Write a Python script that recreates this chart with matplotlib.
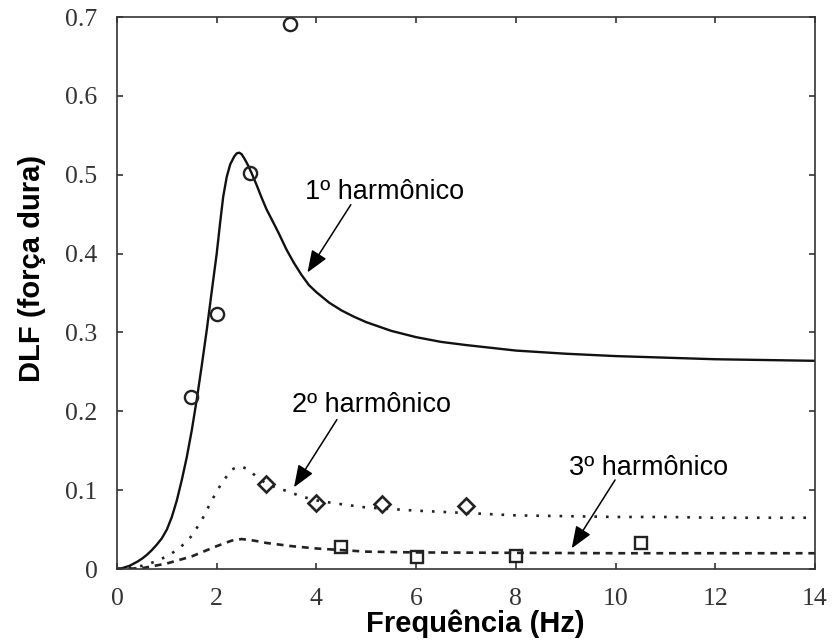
import matplotlib
matplotlib.use("Agg")
import matplotlib.pyplot as plt

# ---- data ----
freq_h1 = [0, 0.1, 0.25, 0.4, 0.5, 0.6, 0.7, 0.8, 0.9, 1.0, 1.1, 1.2, 1.3, 1.4, 1.5, 1.6, 1.7,
           1.8, 1.9, 2.0, 2.07, 2.13, 2.2, 2.27, 2.35, 2.4, 2.45, 2.5, 2.55, 2.62, 2.7, 2.8,
           2.9, 3.0, 3.13, 3.25, 3.4, 3.55, 3.7, 3.85, 4.0, 4.25, 4.5, 4.75, 5.0, 5.5, 6.0,
           6.5, 7.0, 8.0, 9.0, 10.0, 11.0, 12.0, 13.0, 14.0]
dlf_h1 = [0, 0.001, 0.004, 0.009, 0.013, 0.018, 0.024, 0.031, 0.039, 0.05, 0.066, 0.087, 0.113,
          0.142, 0.176, 0.215, 0.258, 0.303, 0.352, 0.40, 0.44, 0.472, 0.497, 0.513, 0.523,
          0.527, 0.528, 0.526, 0.521, 0.513, 0.502, 0.487, 0.471, 0.456, 0.44, 0.425, 0.405,
          0.388, 0.373, 0.36, 0.351, 0.338, 0.328, 0.32, 0.313, 0.302, 0.294, 0.288, 0.284,
          0.277, 0.273, 0.270, 0.268, 0.266, 0.265, 0.264]

freq_h2 = [0, 0.5, 0.75, 1.0, 1.25, 1.5, 1.7, 1.9, 2.1, 2.3, 2.4, 2.5, 2.6, 2.67, 2.8, 3.0, 3.2,
           3.4, 3.7, 4.0, 4.4, 5.0, 5.5, 6.0, 7.0, 8.0, 9.0, 10.0, 11.0, 12.0, 13.0, 14.0]
dlf_h2 = [0, 0.004, 0.009, 0.016, 0.026, 0.042, 0.062, 0.087, 0.109, 0.126, 0.129, 0.130, 0.127,
          0.124, 0.117, 0.108, 0.103, 0.099, 0.092, 0.087, 0.083, 0.078, 0.076, 0.074, 0.071,
          0.068, 0.067, 0.066, 0.066, 0.065, 0.065, 0.065]

freq_h3 = [0, 0.5, 1.0, 1.5, 2.0, 2.3, 2.5, 2.75, 3.0, 3.5, 4.0, 4.5, 5.0, 6.0, 8.0, 10.0, 12.0, 14.0]
dlf_h3 = [0, 0.001, 0.007, 0.016, 0.029, 0.036, 0.038, 0.036, 0.033, 0.029, 0.026, 0.024, 0.022,
          0.021, 0.0205, 0.020, 0.020, 0.020]

meas_h1_f = [1.48, 2.0, 2.67, 3.47]
meas_h1_v = [0.218, 0.324, 0.502, 0.691]
meas_h2_f = [2.98, 3.99, 5.32, 6.99]
meas_h2_v = [0.108, 0.084, 0.082, 0.080]
meas_h3_f = [4.49, 6.01, 8.01, 10.5]
meas_h3_v = [0.0275, 0.0156, 0.017, 0.0334]

xticks = [0, 2, 4, 6, 8, 10, 12, 14]
yticks = [0, 0.1, 0.2, 0.3, 0.4, 0.5, 0.6, 0.7]
ytick_labels = ["0", "0.1", "0.2", "0.3", "0.4", "0.5", "0.6", "0.7"]

labels = ["1º harmônico", "2º harmônico", "3º harmônico"]
xlabel = "Frequência (Hz)"
ylabel = "DLF (força dura)"

# ---- figure ----
fig = plt.figure(figsize=(8.33, 6.43), dpi=100)
ax = fig.add_axes([117 / 833, 1 - 569 / 643, (815 - 117) / 833, (569 - 17) / 643])

ax.plot(freq_h1, dlf_h1, color="#111111", lw=1.7, solid_joinstyle="round")
ax.plot(freq_h2, dlf_h2, color="#222222", lw=1.9, linestyle=(0, (1, 3.4)))
ax.plot(freq_h3, dlf_h3, color="#222222", lw=1.9, linestyle=(0, (2.6, 2.2)))

ax.plot(meas_h1_f, meas_h1_v, linestyle="none", marker="o", ms=9.5, mfc="none",
        mec="#222222", mew=1.7)
ax.plot(meas_h2_f, meas_h2_v, linestyle="none", marker="D", ms=8.5, mfc="none",
        mec="#222222", mew=1.9)
ax.plot(meas_h3_f, meas_h3_v, linestyle="none", marker="s", ms=8.5, mfc="none",
        mec="#222222", mew=1.7)

ax.set_xlim(0, 14)
ax.set_ylim(0, 0.7)
ax.set_xticks(xticks)
ax.set_xticklabels([str(t) for t in xticks])
ax.set_yticks(yticks)
ax.set_yticklabels(ytick_labels)

for s in ax.spines.values():
    s.set_linewidth(1.2)
    s.set_color("#333333")

ax.tick_params(axis="both", direction="in", length=4, width=1.2, color="#333333",
               top=True, right=True, labelsize=18.5, labelcolor="#333333")
ax.tick_params(axis="x", pad=14)
ax.tick_params(axis="y", pad=14)
for lab in ax.get_xticklabels() + ax.get_yticklabels():
    lab.set_family(["Liberation Serif", "DejaVu Serif"])

arrow = dict(arrowstyle="-|>,head_length=0.9,head_width=0.35", color="black", lw=1.1,
             shrinkA=0, shrinkB=0, mutation_scale=15)
txt_kw = dict(fontsize=19.5, family=["Liberation Sans", "DejaVu Sans"], color="black",
              ha="left", va="center")

ax.text(3.77, 0.478, labels[0], **txt_kw)
ax.annotate("", xy=(3.82, 0.376), xytext=(4.69, 0.462), arrowprops=arrow)

ax.text(3.50, 0.208, labels[1], **txt_kw)
ax.annotate("", xy=(3.55, 0.1036), xytext=(4.41, 0.1894), arrowprops=arrow)

ax.text(9.07, 0.1277, labels[2], **txt_kw)
ax.annotate("", xy=(9.12, 0.0262), xytext=(9.99, 0.1129), arrowprops=arrow)

fig.text(475 / 833, 1 - 624 / 643, xlabel, fontsize=21, fontweight="bold",
         family=["Liberation Sans", "DejaVu Sans"], ha="center", va="center")
fig.text(32 / 833, 1 - 268 / 643, ylabel, fontsize=21, fontweight="bold",
         family=["Liberation Sans", "DejaVu Sans"], ha="center", va="center",
         rotation=90)

fig.savefig("out.png", dpi=100)
